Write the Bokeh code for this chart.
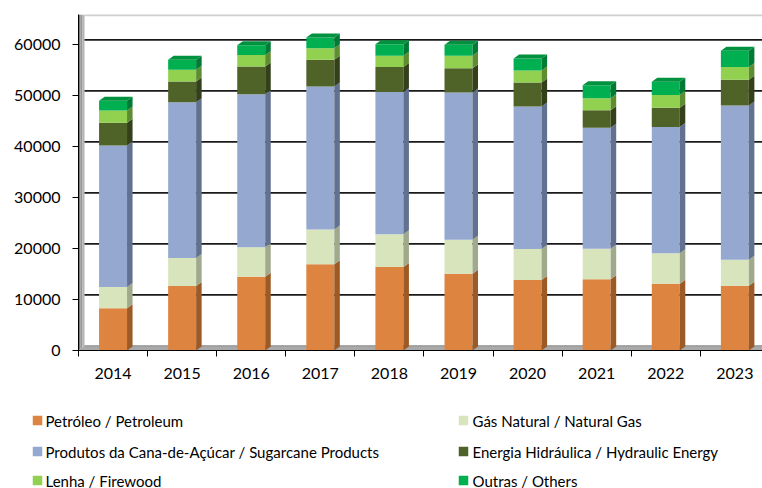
import numpy as np
from bokeh.plotting import figure
from bokeh.models import Range1d, FixedTicker
from bokeh.layouts import column, row
from bokeh.embed import file_html
from bokeh.resources import INLINE
from bokeh.core.properties import value

# ---------------- data ----------------
years = ["2014", "2015", "2016", "2017", "2018", "2019", "2020", "2021", "2022", "2023"]
petroleo = [8270, 12640, 14460, 16910, 16360, 15050, 13820, 13950, 13090, 12700]
gas_natural = [4170, 5490, 5760, 6800, 6410, 6660, 6080, 6000, 5960, 5100]
cana = [27770, 30530, 30000, 28040, 27920, 28890, 27920, 23710, 24790, 30220]
hidraulica = [4430, 4100, 5470, 5270, 4920, 4760, 4740, 3430, 3740, 5060]
lenha = [2430, 2270, 2270, 2250, 2160, 2410, 2350, 2350, 2530, 2530]
outras = [1920, 1960, 1900, 2100, 2290, 2160, 2350, 2550, 2570, 3140]
series_names = [
    "Petróleo / Petroleum",
    "Gás Natural / Natural Gas",
    "Produtos da Cana-de-Açúcar / Sugarcane Products",
    "Energia Hidráulica / Hydraulic Energy",
    "Lenha / Firewood",
    "Outras / Others",
]
y_ticks = [0, 10000, 20000, 30000, 40000, 50000, 60000]
y_tick_labels = ["0", "10000", "20000", "30000", "40000", "50000", "60000"]

# ---------------- styles ----------------
FONT = "Lato"
front_colors = ["#DD8440", "#D8E4BC", "#95A9D0", "#4F6228", "#92D050", "#00B050"]
side_colors = ["#9C5B26", "#A1A98D", "#62718F", "#33401A", "#5E8C30", "#007A35"]
top_color = "#00923F"

series = [petroleo, gas_natural, cana, hidraulica, lenha, outras]
n = len(years)
xs = np.arange(n)
vals = np.array(series, dtype=float)
tops = np.cumsum(vals, axis=0)
bottoms = tops - vals

W = 0.405      # bar front width (category units)
DX = 0.08      # bar depth, x
DY = 784       # bar depth, y (value units)
DXW = 0.087    # wall depth, x
DYW = 920      # wall depth, y
X0 = -0.5
XMAX = 9.40
YTOP = 65880
LEFT = 78
WIDTH = 762
MAIN_H = 400
LEG_H = 88

p = figure(width=WIDTH, height=MAIN_H, x_range=Range1d(X0, XMAX), y_range=Range1d(0, YTOP),
           output_backend="svg", toolbar_location=None,
           min_border_left=LEFT, min_border_right=0, min_border_top=14, min_border_bottom=50)
p.outline_line_color = None
p.xgrid.visible = False
p.ygrid.visible = False
p.background_fill_color = "white"
p.border_fill_color = "white"

# left wall (gradient strips)
wall_cols = ["#7A7A7A", "#969696", "#B4B4B4"]
for j, c in enumerate(wall_cols):
    a = X0 + DXW * j / 3
    b = X0 + DXW * (j + 1) / 3
    p.patch([a, b, b, a], [DYW * j / 3, DYW * (j + 1) / 3, YTOP, YTOP],
            fill_color=c, line_color=None)
# floor
p.patch([X0, XMAX, XMAX, X0 + DXW], [0, 0, DYW, DYW], fill_color="#A9A9A9", line_color=None)
p.segment(x0=[X0 + DXW], y0=[DYW], x1=[XMAX], y1=[DYW], line_color="#8C8C8C", line_width=1)

# back-wall grid lines
p.segment(x0=[X0 + DXW] * (len(y_ticks) - 1), y0=[t + DYW for t in y_ticks[1:]],
          x1=[XMAX] * (len(y_ticks) - 1), y1=[t + DYW for t in y_ticks[1:]],
          line_color="#1A1A1A", line_width=1.7)
# top edge of back wall
p.segment(x0=[X0 + DXW], y0=[YTOP - 120], x1=[XMAX], y1=[YTOP - 120],
          line_color="#CFCFCF", line_width=2.5)

# bars: front faces + side faces
for k in range(len(series)):
    p.vbar(x=xs, bottom=bottoms[k], top=tops[k], width=W,
           fill_color=front_colors[k], line_color=None)
    side_x = [[i + W / 2, i + W / 2 + DX, i + W / 2 + DX, i + W / 2] for i in xs]
    side_y = [[bottoms[k][i], bottoms[k][i] + DY, tops[k][i] + DY, tops[k][i]] for i in xs]
    p.patches(side_x, side_y, fill_color=side_colors[k], line_color=None)

# top faces
T = tops[-1]
top_x = [[i - W / 2, i - W / 2 + DX, i + W / 2 + DX, i + W / 2] for i in xs]
top_y = [[T[i], T[i] + DY, T[i] + DY, T[i]] for i in xs]
p.patches(top_x, top_y, fill_color=top_color, line_color=None)

# axes
p.yaxis.ticker = FixedTicker(ticks=y_ticks)
p.yaxis.major_label_overrides = {t: l for t, l in zip(y_ticks, y_tick_labels)}
p.yaxis.major_label_text_font = FONT
p.yaxis.major_label_text_font_size = "16px"
p.yaxis.major_label_text_color = "black"
p.yaxis.major_tick_out = 6
p.yaxis.major_tick_in = 0
p.yaxis.major_label_standoff = 12
p.yaxis.minor_tick_line_color = None
p.yaxis.axis_line_color = "black"
p.yaxis.major_tick_line_color = "black"

p.xaxis.ticker = FixedTicker(ticks=list(xs), minor_ticks=[i - 0.5 for i in range(n + 1)])
p.xaxis.major_label_overrides = {int(i): y for i, y in zip(xs, years)}
p.xaxis.major_label_text_font = FONT
p.xaxis.major_label_text_font_size = "16px"
p.xaxis.major_label_text_color = "black"
p.xaxis.major_tick_line_color = None
p.xaxis.major_tick_out = 6
p.xaxis.major_tick_in = 0
p.xaxis.minor_tick_out = 6
p.xaxis.minor_tick_in = 0
p.xaxis.minor_tick_line_color = "black"
p.xaxis.major_label_standoff = 11
p.xaxis.axis_line_color = "black"

# ---------------- legend (separate panel; data units == canvas pixels) ----------------
leg = figure(width=WIDTH, height=LEG_H, x_range=Range1d(0, WIDTH), y_range=Range1d(LEG_H, 0),
             output_backend="svg", toolbar_location=None, x_axis_type=None, y_axis_type=None,
             min_border=0)
if "frame_align" in leg.properties():
    leg.frame_align = False
    p.frame_align = False
leg.outline_line_color = None
leg.xgrid.visible = False
leg.ygrid.visible = False
leg.background_fill_color = "white"
leg.border_fill_color = "white"

row_y = [20, 51, 80]
sw_x = [37, 463]
tx_x = [45, 472]
lx, ly, tx = [], [], []
for k in range(len(series_names)):
    r, c = divmod(k, 2)
    lx.append(sw_x[c])
    ly.append(row_y[r])
    tx.append(tx_x[c])
leg.rect(x=lx, y=ly, width=9.5, height=9.5, fill_color=front_colors, line_color=None)
leg.text(x=tx, y=ly, text=series_names, text_font=value(FONT), text_font_size="15px",
         text_baseline="middle", text_align="left", text_color="black")

layout = column(p, row(leg))
open("out.html", "w").write(file_html(layout, INLINE))
